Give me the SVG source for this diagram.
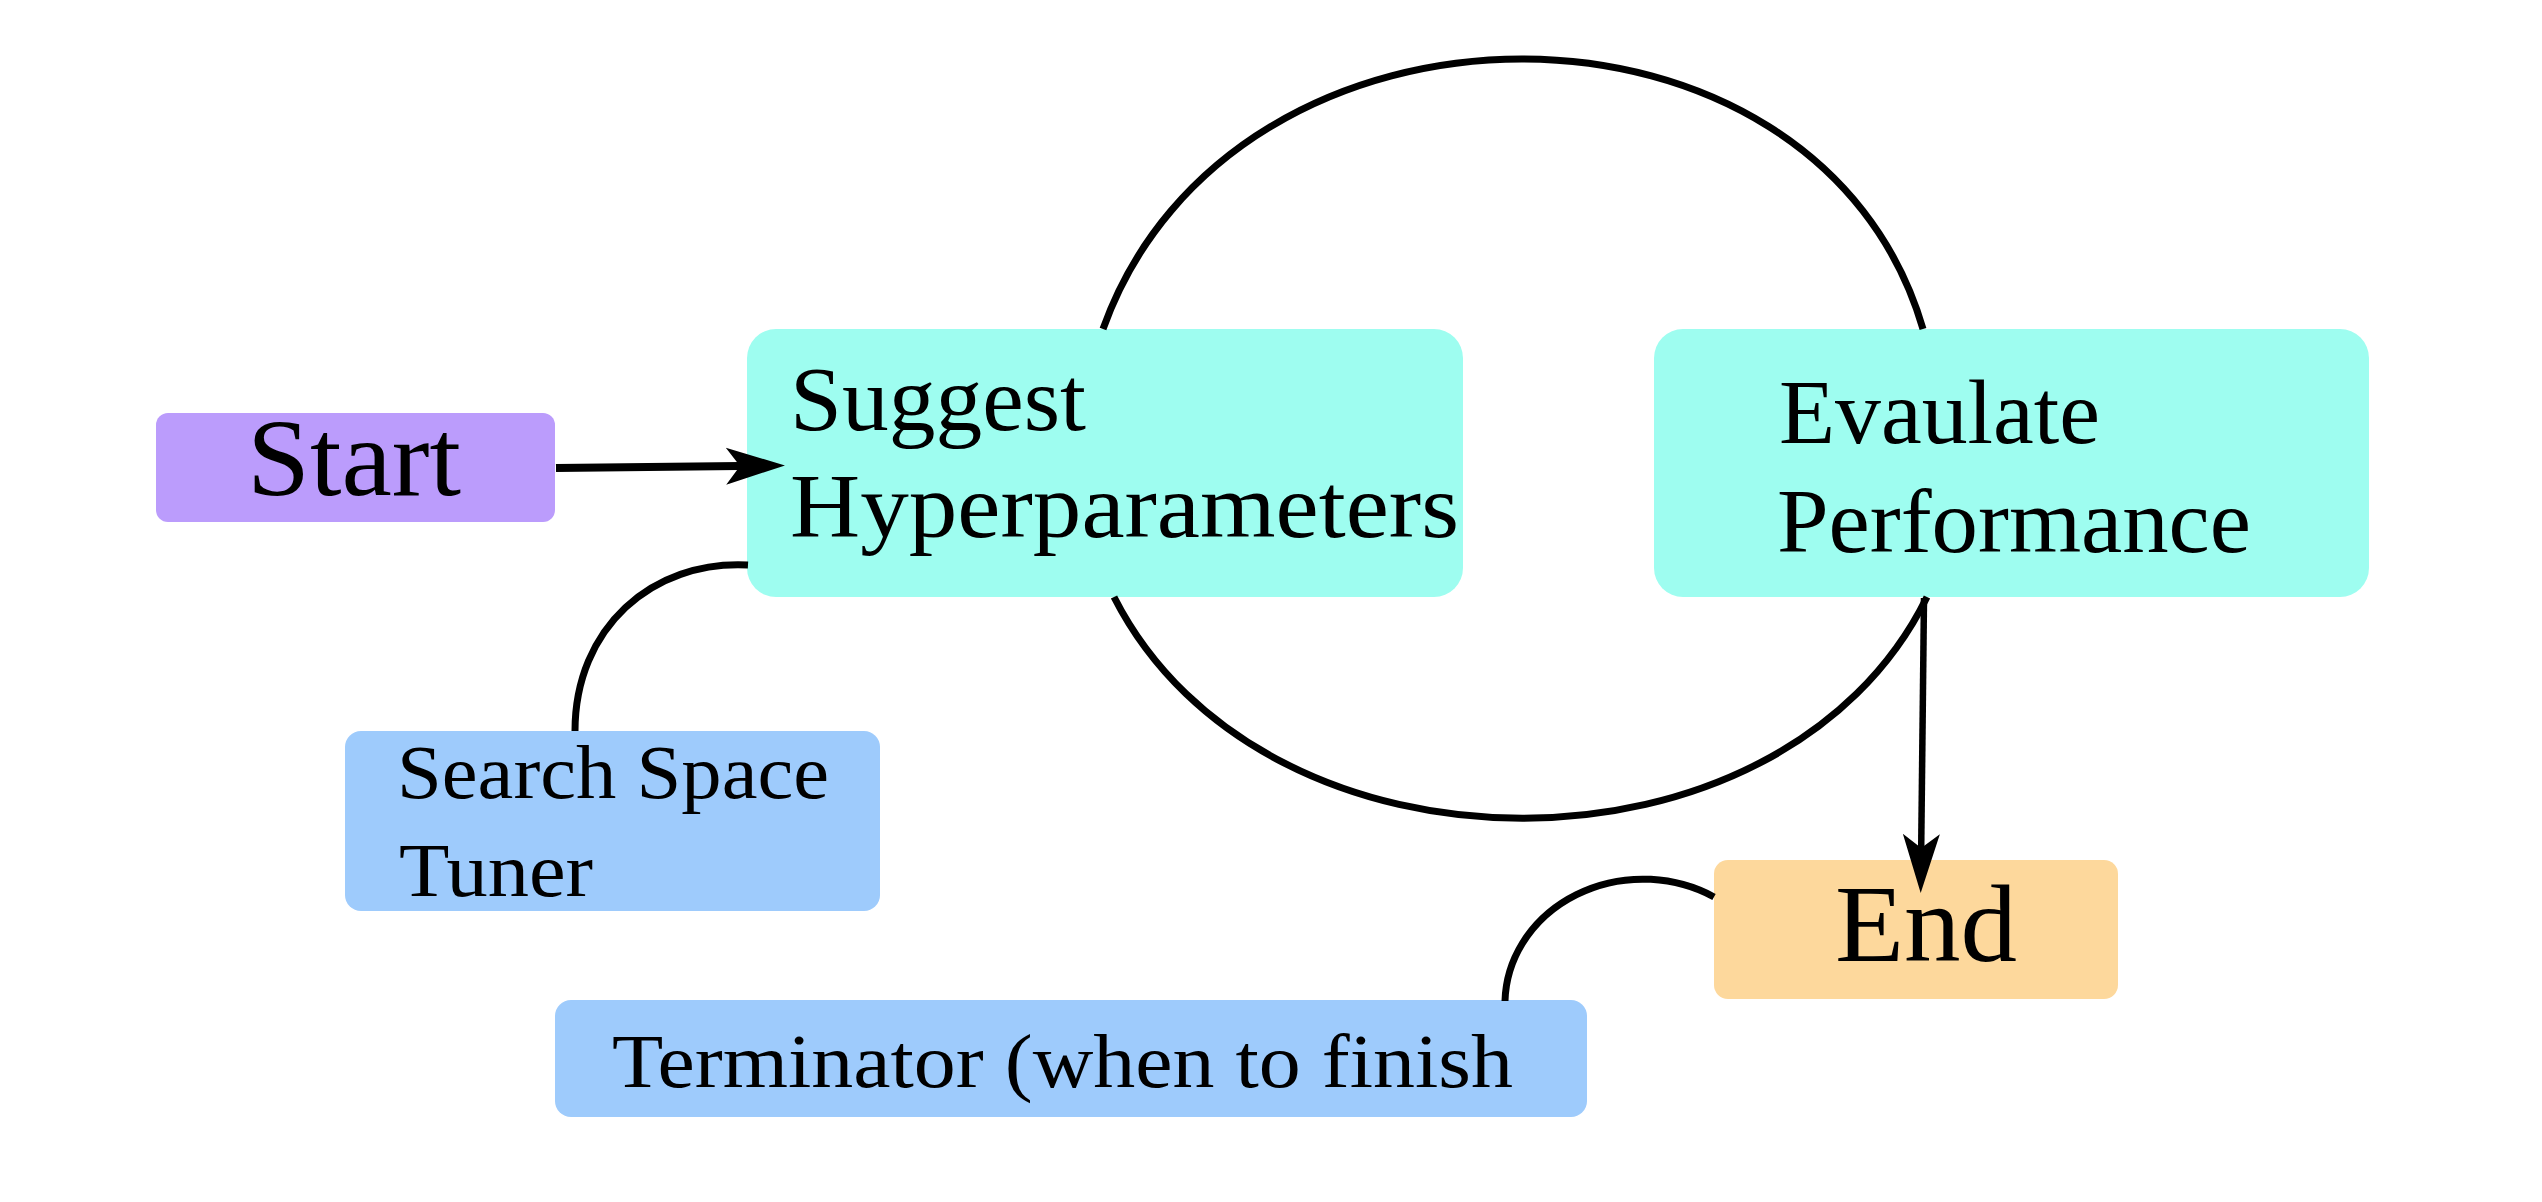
<svg xmlns="http://www.w3.org/2000/svg" width="2542" height="1202" viewBox="0 0 2542 1202">
<style>
.lbl{font-family:"Liberation Serif","DejaVu Serif",serif;fill:#000;}
.big{font-size:110px;}
.mid{font-size:90px;}
.sml{font-size:77px;}
.cur{fill:none;stroke:#000;stroke-width:7;}
.arr{fill:none;stroke:#000;marker-end:url(#head);}
.start{fill:#bb9cfc;}
.main{fill:#9efdf0;}
.aux{fill:#9ecbfc;}
.stop{fill:#fdd89c;}
</style>
<defs>
<marker id="head" viewBox="-62 -20 64 40" refX="-45" refY="0" markerWidth="64" markerHeight="40" markerUnits="userSpaceOnUse" orient="auto">
<path d="M0,0 L-59,-18.5 L-45,0 L-59,18.5 Z" fill="#000"/>
</marker>
</defs>
<rect width="2542" height="1202" fill="#fff"/>
<g id="node-start">
<rect class="start" x="156" y="413" width="399" height="109" rx="12"/>
<text class="lbl big" x="247" y="495" textLength="214" lengthAdjust="spacingAndGlyphs">Start</text>
</g>
<g id="node-suggest">
<rect class="main" x="747" y="329" width="716" height="268" rx="29"/>
<text class="lbl mid" x="790" y="430" textLength="296" lengthAdjust="spacingAndGlyphs">Suggest</text>
<text class="lbl mid" x="790" y="537" textLength="669" lengthAdjust="spacingAndGlyphs">Hyperparameters</text>
</g>
<g id="node-evaluate">
<rect class="main" x="1654" y="329" width="715" height="268" rx="29"/>
<text class="lbl mid" x="1779" y="443" textLength="321" lengthAdjust="spacingAndGlyphs">Evaulate</text>
<text class="lbl mid" x="1777" y="552" textLength="474" lengthAdjust="spacingAndGlyphs">Performance</text>
</g>
<g id="node-searchspace">
<rect class="aux" x="345" y="731" width="535" height="180" rx="16"/>
<text class="lbl sml" x="397" y="798" textLength="432" lengthAdjust="spacingAndGlyphs">Search Space</text>
<text class="lbl sml" x="399" y="896" textLength="194" lengthAdjust="spacingAndGlyphs">Tuner</text>
</g>
<g id="node-end">
<rect class="stop" x="1714" y="860" width="404" height="139" rx="14"/>
<text class="lbl big" x="1835" y="961" textLength="182" lengthAdjust="spacingAndGlyphs">End</text>
</g>
<g id="node-terminator">
<rect class="aux" x="555" y="1000" width="1032" height="117" rx="16"/>
<text class="lbl sml" x="612" y="1087" textLength="901" lengthAdjust="spacingAndGlyphs">Terminator (when to finish</text>
</g>
<g id="connectors">
<path class="cur" d="M1103,329 C1232,-31 1818,-31 1923,329"/>
<path class="cur" d="M1114,597 C1264,892 1782,892 1927,597"/>
<path class="cur" d="M748,565 C652,560 575,628 575,731"/>
<path class="cur" d="M1714,897 A138,125 0 0 0 1505,1001"/>
<path class="arr" stroke-width="8" d="M556,468 L740,466"/>
<path class="arr" stroke-width="6.5" d="M1924,598 L1921.2,848"/>
</g>
</svg>
